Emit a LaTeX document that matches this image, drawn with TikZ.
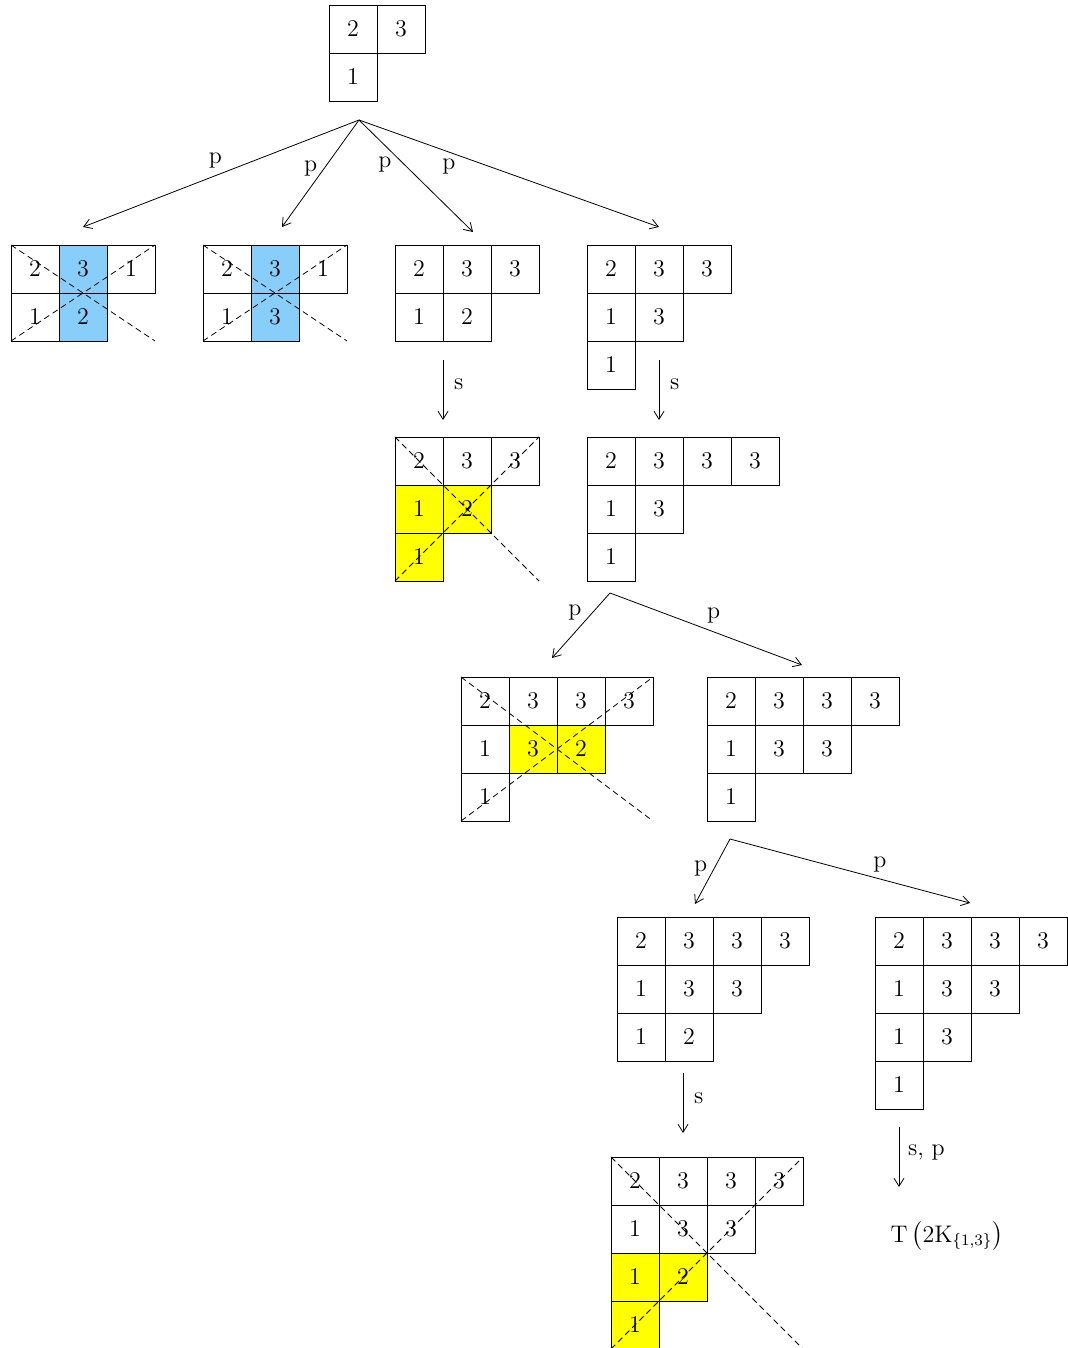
\documentclass[tikz,border=0pt]{standalone}
\usepackage{amsmath}
\usepackage{amssymb}
\usepackage{tikz}
\usetikzlibrary{arrows.meta,positioning,calc}
\definecolor{skyblue}{RGB}{135,206,250}
\definecolor{hlyellow}{RGB}{255,255,0}

\begin{document}
\begin{tikzpicture}[
    x=0.5pt, y=-0.5pt,
    every node/.style={font=\large},
    cell/.style={draw, minimum size=24pt, inner sep=0pt, outer sep=0pt},
    cross/.style={densely dashed},
    arrow/.style={-{Straight Barb[length=4pt,width=5pt]}}
]
\useasboundingbox (0,0) rectangle (1068,1348);

% root tableau
\begin{scope}[shift={(329,5)}]
\foreach \v [count=\c] in {2,3} \node[cell] (t1\c) at (48*\c-24,24) {\v};
\node[cell] (t21) at (24,72) {1};
\end{scope}

% first level
\begin{scope}[shift={(11,245)}]
\foreach \v/\f [count=\c] in {2/white,3/skyblue,1/white} \node[cell, fill=\f] (a1\c) at (48*\c-24,24) {\v};
\foreach \v/\f [count=\c] in {1/white,2/skyblue} \node[cell, fill=\f] (a2\c) at (48*\c-24,72) {\v};
\end{scope}
\draw[cross] (a11.north west) -- (a13.east |- a21.south);
\draw[cross] (a21.south west) -- (a13.north east);

\begin{scope}[shift={(203,245)}]
\foreach \v/\f [count=\c] in {2/white,3/skyblue,1/white} \node[cell, fill=\f] (b1\c) at (48*\c-24,24) {\v};
\foreach \v/\f [count=\c] in {1/white,3/skyblue} \node[cell, fill=\f] (b2\c) at (48*\c-24,72) {\v};
\end{scope}
\draw[cross] (b11.north west) -- (b13.east |- b21.south);
\draw[cross] (b21.south west) -- (b13.north east);

\begin{scope}[shift={(395,245)}]
\foreach \v [count=\c] in {2,3,3} \node[cell] (c1\c) at (48*\c-24,24) {\v};
\foreach \v [count=\c] in {1,2} \node[cell] (c2\c) at (48*\c-24,72) {\v};
\end{scope}

\begin{scope}[shift={(587,245)}]
\foreach \v [count=\c] in {2,3,3} \node[cell] (d1\c) at (48*\c-24,24) {\v};
\foreach \v [count=\c] in {1,3} \node[cell] (d2\c) at (48*\c-24,72) {\v};
\node[cell] (d31) at (24,120) {1};
\end{scope}

% second level
\begin{scope}[shift={(395,437)}]
\foreach \v [count=\c] in {2,3,3} \node[cell] (e1\c) at (48*\c-24,24) {\v};
\foreach \v [count=\c] in {1,2} \node[cell, fill=hlyellow] (e2\c) at (48*\c-24,72) {\v};
\node[cell, fill=hlyellow] (e31) at (24,120) {1};
\end{scope}
\draw[cross] (e11.north west) -- (e13.east |- e31.south);
\draw[cross] (e31.south west) -- (e13.north east);

\begin{scope}[shift={(587,437)}]
\foreach \v [count=\c] in {2,3,3,3} \node[cell] (f1\c) at (48*\c-24,24) {\v};
\foreach \v [count=\c] in {1,3} \node[cell] (f2\c) at (48*\c-24,72) {\v};
\node[cell] (f31) at (24,120) {1};
\end{scope}

% third level
\begin{scope}[shift={(461,677)}]
\foreach \v [count=\c] in {2,3,3,3} \node[cell] (g1\c) at (48*\c-24,24) {\v};
\foreach \v/\f [count=\c] in {1/white,3/hlyellow,2/hlyellow} \node[cell, fill=\f] (g2\c) at (48*\c-24,72) {\v};
\node[cell] (g31) at (24,120) {1};
\end{scope}
\draw[cross] (g11.north west) -- (g14.east |- g31.south);
\draw[cross] (g31.south west) -- (g14.north east);

\begin{scope}[shift={(707,677)}]
\foreach \v [count=\c] in {2,3,3,3} \node[cell] (h1\c) at (48*\c-24,24) {\v};
\foreach \v [count=\c] in {1,3,3} \node[cell] (h2\c) at (48*\c-24,72) {\v};
\node[cell] (h31) at (24,120) {1};
\end{scope}

% fourth level
\begin{scope}[shift={(617,917)}]
\foreach \v [count=\c] in {2,3,3,3} \node[cell] (i1\c) at (48*\c-24,24) {\v};
\foreach \v [count=\c] in {1,3,3} \node[cell] (i2\c) at (48*\c-24,72) {\v};
\foreach \v [count=\c] in {1,2} \node[cell] (i3\c) at (48*\c-24,120) {\v};
\end{scope}

\begin{scope}[shift={(875,917)}]
\foreach \v [count=\c] in {2,3,3,3} \node[cell] (j1\c) at (48*\c-24,24) {\v};
\foreach \v [count=\c] in {1,3,3} \node[cell] (j2\c) at (48*\c-24,72) {\v};
\foreach \v [count=\c] in {1,3} \node[cell] (j3\c) at (48*\c-24,120) {\v};
\node[cell] (j41) at (24,168) {1};
\end{scope}

% last level
\begin{scope}[shift={(611,1157)}]
\foreach \v [count=\c] in {2,3,3,3} \node[cell] (k1\c) at (48*\c-24,24) {\v};
\foreach \v [count=\c] in {1,3,3} \node[cell] (k2\c) at (48*\c-24,72) {\v};
\foreach \v [count=\c] in {1,2} \node[cell, fill=hlyellow] (k3\c) at (48*\c-24,120) {\v};
\node[cell, fill=hlyellow] (k41) at (24,168) {1};
\end{scope}
\draw[cross] (k11.north west) -- (k14.east |- k41.south);
\draw[cross] (k41.south west) -- (k14.north east);

\node (res) at (947,1236) {$\mathrm{T}\left(2\mathrm{K}_{\{1,3\}}\right)$};

% branching points and arrow ends
\coordinate (r0) at (359,120);
\coordinate (r0a) at (83,227);
\coordinate (r0b) at (282,227);
\coordinate (r0c) at (473,232);
\coordinate (r0d) at (659,227);
\coordinate (r1) at (610,593);
\coordinate (r1a) at (552,658);
\coordinate (r1b) at (802,665);
\coordinate (r2) at (730,839);
\coordinate (r2a) at (695,904);
\coordinate (r2b) at (970,903);
\coordinate (s1a) at (443,360);
\coordinate (s1b) at (443,420);
\coordinate (s2a) at (659,360);
\coordinate (s2b) at (659,420);
\coordinate (s3a) at (683,1073);
\coordinate (s3b) at (683,1133);
\coordinate (s4a) at (899,1127);
\coordinate (s4b) at (899,1187);

\draw[arrow] (r0) -- node[pos=.52, above] {p} (r0a);
\draw[arrow] (r0) -- node[pos=.45, left] {p} (r0b);
\draw[arrow] (r0) -- node[pos=.4, left=3pt] {p} (r0c);
\draw[arrow] (r0) -- node[pos=.3, below] {p} (r0d);

\draw[arrow] (s1a) -- node[pos=.4, right=2pt] {s} (s1b);
\draw[arrow] (s2a) -- node[pos=.4, right=2pt] {s} (s2b);

\draw[arrow] (r1) -- node[pos=.3, left=2pt] {p} (r1a);
\draw[arrow] (r1) -- node[pos=.54, above=1pt] {p} (r1b);

\draw[arrow] (r2) -- node[pos=.45, left] {p} (r2a);
\draw[arrow] (r2) -- node[pos=.625, above] {p} (r2b);

\draw[arrow] (s3a) -- node[pos=.42, right=2pt] {s} (s3b);
\draw[arrow] (s4a) -- node[pos=.42, right=1pt] {s, p} (s4b);
\end{tikzpicture}
\end{document}
